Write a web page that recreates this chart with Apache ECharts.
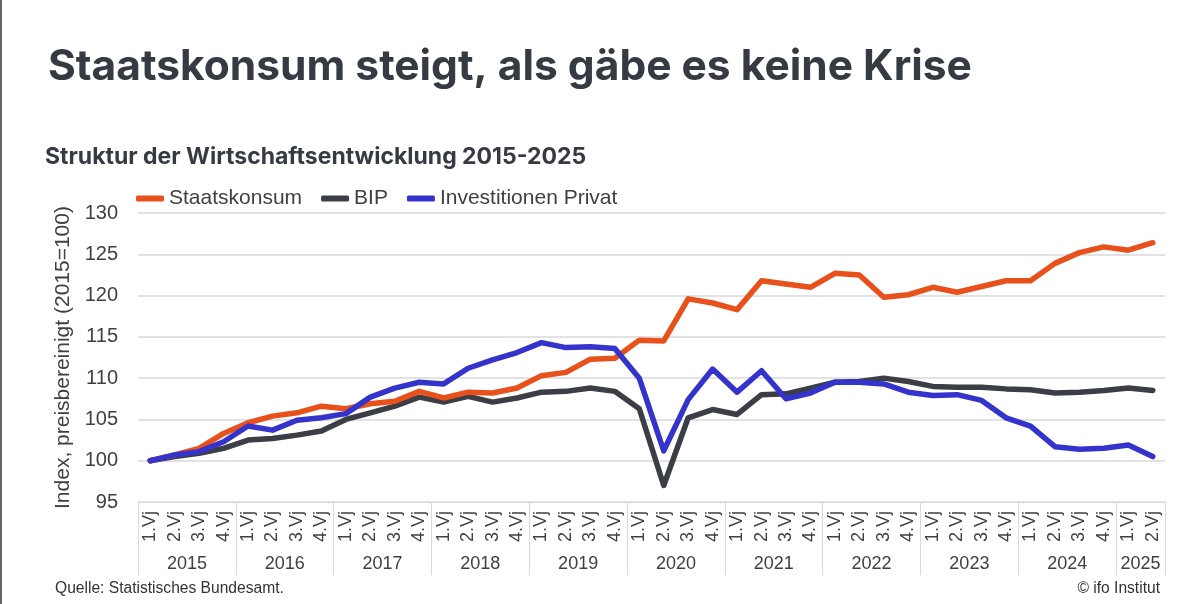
<!DOCTYPE html>
<html>
<head>
<meta charset="utf-8">
<title>Staatskonsum steigt</title>
<script src="https://cdn.jsdelivr.net/npm/echarts@6/dist/echarts.min.js"></script>
<style>
  html, body { margin: 0; padding: 0; background: #fff; }
  #chart { width: 1200px; height: 604px; }
</style>
</head>
<body>
<div id="chart"></div>
<script>
// Jahre und Quartale
var years = ['2015', '2016', '2017', '2018', '2019', '2020', '2021', '2022', '2023', '2024', '2025'];
var quarterNames = ['1.Vj', '2.Vj', '3.Vj', '4.Vj'];
var quartersPerYear = [4, 4, 4, 4, 4, 4, 4, 4, 4, 4, 2];
var yTicks = [95, 100, 105, 110, 115, 120, 125, 130];

// Index, preisbereinigt (2015=100)
var staatskonsum = [
    100.0, 100.7, 101.5, 103.3,
    104.6, 105.4, 105.8, 106.6,
    106.3, 106.9, 107.2, 108.4,
    107.6, 108.3, 108.2, 108.8,
    110.3, 110.7, 112.3, 112.4,
    114.6, 114.5, 119.6, 119.1,
    118.3, 121.8, 121.4, 121.0,
    122.7, 122.5, 119.8, 120.1,
    121.0, 120.4, 121.1, 121.8,
    121.8, 123.9, 125.2, 125.9,
    125.5, 126.4
];
var bip = [
    100.0, 100.5, 100.9, 101.5,
    102.5, 102.7, 103.1, 103.6,
    105.0, 105.8, 106.6, 107.7,
    107.1, 107.8, 107.1, 107.6,
    108.3, 108.4, 108.8, 108.4,
    106.3, 97.0, 105.2, 106.2,
    105.6, 108.0, 108.1, 108.8,
    109.5, 109.6, 110.0, 109.6,
    109.0, 108.9, 108.9, 108.7,
    108.6, 108.2, 108.3, 108.5,
    108.8, 108.5
];
var investitionen = [
    100.0, 100.7, 101.1, 102.3,
    104.2, 103.7, 104.9, 105.2,
    105.7, 107.7, 108.8, 109.5,
    109.3, 111.2, 112.2, 113.1,
    114.3, 113.7, 113.8, 113.6,
    110.0, 101.2, 107.4, 111.1,
    108.3, 110.9, 107.5, 108.2,
    109.5, 109.5, 109.3, 108.3,
    107.9, 108.0, 107.3, 105.2,
    104.2, 101.7, 101.4, 101.5,
    101.9, 100.5
];

// Kategorien fuer die Quartalsachse
var categories = [];
// zweite Achse in halben Quartalen: Jahreszahl in der Mitte, Trennstrich an den Grenzen
var halfSlots = [];
var boundaries = {};
var pos = 0;
years.forEach(function (y, k) {
    var n = quartersPerYear[k];
    for (var q = 0; q < n; q++) {
        categories.push(quarterNames[q]);
    }
    boundaries[2 * pos] = true;
    pos += n;
});
boundaries[2 * pos] = true;
for (var i = 0; i <= 2 * pos; i++) halfSlots.push('');
pos = 0;
years.forEach(function (y, k) {
    halfSlots[2 * pos + quartersPerYear[k]] = y;
    pos += quartersPerYear[k];
});

var labelFont = '"Liberation Sans", Arial, sans-serif';
var textColor = '#404040';
var lineGrey = '#d9d9d9';

var myChart = echarts.init(document.getElementById('chart'));
var option = {
    backgroundColor: '#fff',
    animation: false,
    graphic: [
        { type: 'rect', left: 0, top: 0, shape: { width: 2, height: 604 }, style: { fill: '#666' } },
        {
            type: 'text', left: 48, top: 46,
            style: {
                text: 'Staatskonsum steigt, als gäbe es keine Krise',
                font: '700 42.5px Inter, "Liberation Sans", sans-serif',
                fill: '#363b43', verticalAlign: 'middle'
            }
        },
        {
            type: 'text', left: 45, top: 146,
            style: {
                text: 'Struktur der Wirtschaftsentwicklung 2015-2025',
                font: '700 23px Inter, "Liberation Sans", sans-serif',
                fill: '#363b43', verticalAlign: 'middle'
            }
        },
        {
            type: 'text', left: 55, top: 581,
            style: {
                text: 'Quelle: Statistisches Bundesamt.',
                font: '15.6px ' + labelFont, fill: '#333', verticalAlign: 'middle'
            }
        },
        {
            type: 'text', right: 40, top: 581,
            style: {
                text: '© ifo Institut',
                font: '15.6px ' + labelFont, fill: '#333', verticalAlign: 'middle'
            }
        }
    ],
    legend: {
        left: 131,
        top: 183,
        icon: 'roundRect',
        itemWidth: 28,
        itemHeight: 6,
        itemGap: 19,
        textStyle: { fontSize: 21, color: textColor, fontFamily: labelFont },
        data: ['Staatskonsum', 'BIP', 'Investitionen Privat']
    },
    grid: { left: 138, right: 35, top: 213, bottom: 102 },
    xAxis: [
        {
            type: 'category',
            data: categories,
            boundaryGap: true,
            axisLine: { show: true, lineStyle: { color: lineGrey } },
            axisTick: { show: false },
            axisLabel: {
                rotate: 90, margin: 9, interval: 0,
                fontSize: 18, color: textColor, fontFamily: labelFont
            }
        },
        {
            type: 'category',
            data: halfSlots,
            position: 'bottom',
            boundaryGap: false,
            axisLine: { show: false },
            axisTick: {
                show: true, length: 73,
                interval: function (idx) { return !!boundaries[idx]; },
                lineStyle: { color: lineGrey }
            },
            axisLabel: {
                margin: 53,
                interval: function (idx, val) { return val !== ''; },
                fontSize: 18, color: textColor, fontFamily: labelFont
            },
            splitLine: { show: false }
        }
    ],
    yAxis: {
        type: 'value',
        min: yTicks[0],
        max: yTicks[yTicks.length - 1],
        interval: 5,
        name: 'Index, preisbereinigt (2015=100)',
        nameLocation: 'middle',
        nameGap: 50,
        nameTextStyle: { fontSize: 21, color: textColor, fontFamily: labelFont },
        axisLine: { show: false },
        axisTick: { show: false },
        axisLabel: { margin: 20, fontSize: 20, color: textColor, fontFamily: labelFont },
        splitLine: { lineStyle: { color: lineGrey, width: 1.5 } }
    },
    series: [
        {
            name: 'Staatskonsum', type: 'line', data: staatskonsum,
            showSymbol: false, symbol: 'none', z: 3,
            lineStyle: { width: 5.5, color: '#e8501c', cap: 'round', join: 'round' },
            itemStyle: { color: '#e8501c' }
        },
        {
            name: 'BIP', type: 'line', data: bip,
            showSymbol: false, symbol: 'none', z: 2,
            lineStyle: { width: 5.5, color: '#3b3e45', cap: 'round', join: 'round' },
            itemStyle: { color: '#3b3e45' }
        },
        {
            name: 'Investitionen Privat', type: 'line', data: investitionen,
            showSymbol: false, symbol: 'none', z: 4,
            lineStyle: { width: 5.5, color: '#3434cc', cap: 'round', join: 'round' },
            itemStyle: { color: '#3434cc' }
        }
    ]
};
myChart.setOption(option);
</script>
</body>
</html>
